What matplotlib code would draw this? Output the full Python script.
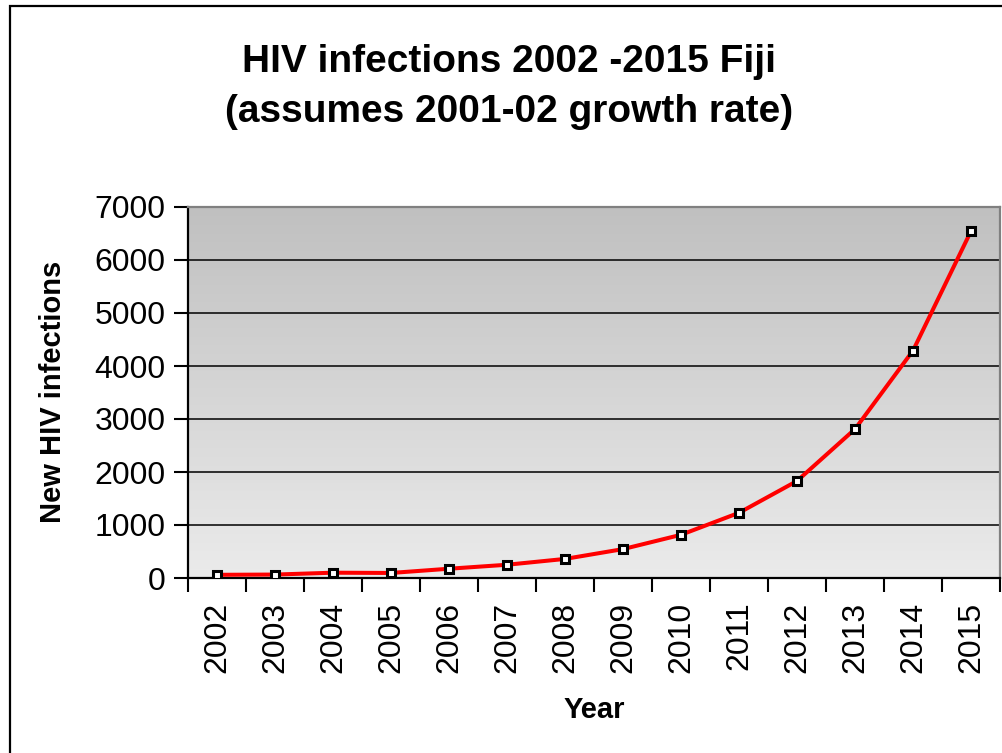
import numpy as np
import matplotlib.pyplot as plt
from matplotlib.patches import Rectangle

plt.rcParams['font.family'] = ['Liberation Sans', 'DejaVu Sans']

years = ['2002', '2003', '2004', '2005', '2006', '2007', '2008',
         '2009', '2010', '2011', '2012', '2013', '2014', '2015']
new_infections = [60, 65, 100, 95, 175, 250, 360, 545, 815, 1230, 1830, 2810, 4290, 6545]
y_ticks = [0, 1000, 2000, 3000, 4000, 5000, 6000, 7000]

fig = plt.figure(figsize=(10.02, 7.53), dpi=100)
W, H = 1002, 753

# outer chart border
fig.patches.append(Rectangle((9.5 / W, -0.1), 1.2, 1.1 - 6.5 / H, transform=fig.transFigure,
                             fill=False, edgecolor='black', linewidth=1.6))

ax = fig.add_axes([188 / W, 1 - 578 / H, 812 / W, 371 / H])
x = np.arange(len(years))

# gray gradient background of the plot area
grad = np.linspace(0, 1, 256).reshape(-1, 1)
ax.imshow(grad, extent=(-0.5, len(years) - 0.5, 0, 7000), aspect='auto',
          cmap=plt.matplotlib.colors.LinearSegmentedColormap.from_list('g', ['#ebebeb', '#c0c0c0']),
          origin='lower', zorder=0, interpolation='bilinear')

for v in y_ticks[1:-1]:
    ax.axhline(v, color='black', linewidth=1.1, zorder=1)

ax.plot(x, new_infections, color='#ff0000', linewidth=2.9, zorder=3, solid_capstyle='round')
ax.plot(x, new_infections, linestyle='none', marker='s', markersize=5.5,
        markerfacecolor='white', markeredgecolor='black', markeredgewidth=2.2, zorder=4)

ax.set_xlim(-0.5, len(years) - 0.5)
ax.set_ylim(0, 7000)
ax.set_yticks(y_ticks)
ax.set_yticklabels([str(v) for v in y_ticks], fontsize=23)
ax.set_xticks(np.arange(len(years) + 1) - 0.5)
ax.set_xticklabels([])
ax.set_xticks(x, minor=True)
ax.set_xticklabels(years, minor=True, rotation=90, fontsize=23)
ax.tick_params(axis='x', which='major', length=10, width=1.5, direction='out')
ax.tick_params(axis='x', which='minor', length=0, pad=17)
ax.tick_params(axis='y', length=10, width=1.5, direction='out', pad=6)

for s in ['left', 'bottom']:
    ax.spines[s].set_color('black')
    ax.spines[s].set_linewidth(1.6)
for s in ['top', 'right']:
    ax.spines[s].set_color('#808080')
    ax.spines[s].set_linewidth(1.6)

fig.text(509 / W, 1 - 62 / H, 'HIV infections 2002 -2015 Fiji', ha='center', va='center',
         fontsize=28, fontweight='bold')
fig.text(509 / W, 1 - 112 / H, '(assumes 2001-02 growth rate)', ha='center', va='center',
         fontsize=28, fontweight='bold')
fig.text(53 / W, 1 - 392 / H, 'New HIV infections', ha='center', va='center', rotation=90,
         fontsize=21, fontweight='bold')
fig.text(594 / W, 1 - 710 / H, 'Year', ha='center', va='center', fontsize=21, fontweight='bold')

fig.savefig('out.png', dpi=100)
